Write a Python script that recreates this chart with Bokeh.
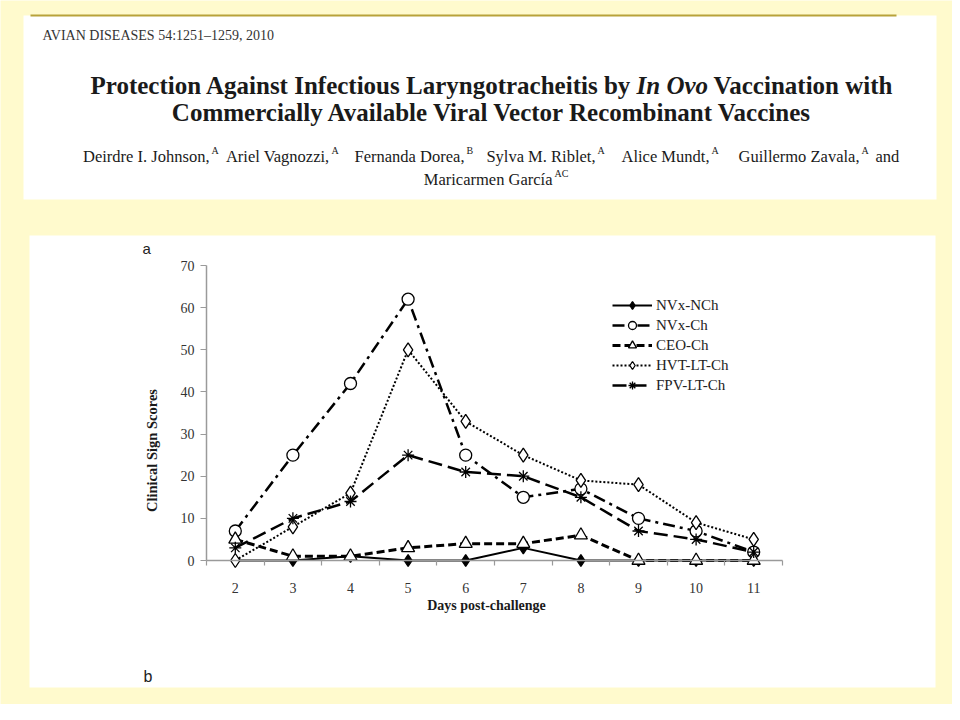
import math
from bokeh.plotting import figure
from bokeh.models import (Range1d, FixedTicker, BoxAnnotation, Label, Legend,
                          LegendItem)
from bokeh.embed import file_html
from bokeh.resources import INLINE

# ---------------- data ----------------
days = [2, 3, 4, 5, 6, 7, 8, 9, 10, 11]
nvx_nch = [0, 0, 1, 0, 0, 3, 0, 0, 0, 0]
nvx_ch = [7, 25, 42, 62, 25, 15, 17, 10, 7, 2]
ceo_ch = [5, 1, 1, 3, 4, 4, 6, 0, 0, 0]
hvt_lt_ch = [0, 8, 16, 50, 33, 25, 19, 18, 9, 5]
fpv_lt_ch = [3, 10, 14, 25, 21, 20, 15, 7, 5, 2]
series_names = ["NVx-NCh", "NVx-Ch", "CEO-Ch", "HVT-LT-Ch", "FPV-LT-Ch"]
y_ticks = [0, 10, 20, 30, 40, 50, 60, 70]

BG = "#FFFACD"
SERIF = "Liberation Serif"
SANS = "Liberation Sans"

# ---------------- geometry (canvas px) ----------------
W, H = 952, 704
X_LO, X_HI = days[0] - 0.5, days[-1] + 0.5
Y_LO, Y_HI = y_ticks[0], y_ticks[-1]
PX_XLO, PX_XHI = 206, 782      # canvas x of X_LO / X_HI
PX_YLO, PX_YHI = 560, 265      # canvas y (top-down) of Y_LO / Y_HI
kx = (PX_XHI - PX_XLO) / (X_HI - X_LO)
ky = (PX_YLO - PX_YHI) / (Y_HI - Y_LO)
x_range = Range1d(X_LO - PX_XLO / kx, X_HI + (W - PX_XHI) / kx)
y_range = Range1d(Y_LO - (H - PX_YLO) / ky, Y_HI + PX_YHI / ky)

p = figure(width=W, height=H, output_backend="svg", toolbar_location=None,
           x_range=x_range, y_range=y_range, title=None,
           min_border=0, min_border_left=0, min_border_right=0,
           min_border_top=0, min_border_bottom=0)
p.border_fill_color = BG
p.background_fill_color = BG
p.outline_line_color = None
p.xgrid.visible = False
p.ygrid.visible = False

# ---------------- decorations ----------------
def box(l, r, t, b, color):
    return BoxAnnotation(left=l, right=r, top=t, bottom=b,
                         left_units="canvas", right_units="canvas",
                         top_units="canvas", bottom_units="canvas",
                         fill_color=color, fill_alpha=1, line_color=None,
                         level="image")

p.add_layout(box(23, 936, 15, 199, "white"))
p.add_layout(box(29, 935, 235, 687, "white"))
p.add_layout(box(30, 896, 14, 16, "#B8A23A"))

def lab(text, x, y, size, font=SERIF, style="normal", align="left",
        color="#1a1a1a", angle=0):
    p.add_layout(Label(x=x, y=y, x_units="canvas", y_units="canvas",
                       text=text, text_font=font, text_font_size=size,
                       text_font_style=style, text_align=align,
                       text_baseline="middle", text_color=color, angle=angle))

lab("AVIAN DISEASES 54:1251\u20131259, 2010", 42, 35, "14px", color="#333")
lab("Protection Against Infectious Laryngotracheitis by", 90, 85, "25px", style="bold")
lab("In Ovo", 636, 85, "25px", style="bold italic")
lab("Vaccination with", 713, 85, "25px", style="bold")
lab("Commercially Available Viral Vector Recombinant Vaccines", 492, 112, "25px",
    style="bold", align="center")

# (name, superscript, x of its superscript)
authors = [("Deirdre I. Johnson,", "A", 211),
           ("Ariel Vagnozzi,", "A", 331),
           ("Fernanda Dorea,", "B", 466),
           ("Sylva M. Riblet,", "A", 597),
           ("Alice Mundt,", "A", 711),
           ("Guillermo Zavala,", "A", 861)]
for name, sup, sx in authors:
    lab(name, sx - 2, 156, "16.5px", align="right")
    lab(sup, sx, 150, "10px")
lab("and", 875, 156, "16.5px")
lab("Maricarmen Garc\u00eda", 552, 179, "16.5px", align="right")
lab("AC", 554, 173, "10px")

lab("a", 142, 248, "15px", font=SANS, color="#222")
lab("b", 143, 676, "16px", font=SANS, color="#222")
lab("Clinical Sign Scores", 151, 450, "14.5px", style="bold", align="center",
    angle=math.pi / 2)
lab("Days post-challenge", 486, 605, "14px", style="bold", align="center")

# ---------------- axes ----------------
xa = p.xaxis[0]
xa.ticker = FixedTicker(ticks=days,
                        minor_ticks=[d - 0.5 for d in days] + [days[-1] + 0.5])
xa.fixed_location = Y_LO
xa.bounds = (X_LO, X_HI)
xa.axis_line_color = "#9a9a9a"
xa.axis_line_width = 1.5
xa.major_tick_line_color = None
xa.major_tick_out = 0
xa.major_tick_in = 0
xa.minor_tick_line_color = "#9a9a9a"
xa.minor_tick_line_width = 1.2
xa.minor_tick_out = 5
xa.minor_tick_in = 0
xa.major_label_standoff = 17
xa.major_label_text_font = SERIF
xa.major_label_text_font_size = "14px"
xa.major_label_text_color = "#333"

ya = p.yaxis[0]
ya.ticker = FixedTicker(ticks=y_ticks)
ya.fixed_location = X_LO
ya.bounds = (Y_LO, Y_HI)
ya.axis_line_color = "#9a9a9a"
ya.axis_line_width = 1.5
ya.major_tick_line_color = "#9a9a9a"
ya.major_tick_line_width = 1.2
ya.major_tick_out = 6
ya.major_tick_in = 0
ya.minor_tick_line_color = None
ya.major_label_standoff = 6
ya.major_label_text_font = SERIF
ya.major_label_text_font_size = "14px"
ya.major_label_text_color = "#333"

# ---------------- series ----------------
styles = [
    (nvx_nch, "solid", 2.0, "diamond", 12, "black"),
    (nvx_ch, "12 5 3 5", 2.5, "circle", 12, "white"),
    (ceo_ch, "8 4", 3.0, "triangle", 13, "white"),
    (hvt_lt_ch, "2 2", 2.0, "diamond", 14, "white"),
    (fpv_lt_ch, "14 6", 2.5, "asterisk", 12, "white"),
]
items = []
for name, (vals, dash, lw, marker, size, fill) in zip(series_names, styles):
    ln = p.line(days, vals, line_color="black", line_width=lw, line_dash=dash)
    sc = p.scatter(days, vals, marker=marker, size=size, fill_color=fill,
                   line_color="black", line_width=1.3)
    items.append(LegendItem(label=name, renderers=[ln, sc]))

# legend box: left edge at canvas x 612, bottom edge at canvas y 395
legend = Legend(items=items, location=(612, H - 395), padding=0, spacing=0,
                margin=0, label_height=20, glyph_height=20, glyph_width=40,
                label_standoff=4, border_line_color=None,
                background_fill_alpha=0, label_text_font=SERIF,
                label_text_font_size="15px", label_text_color="#222")
p.add_layout(legend)

open("out.html", "w").write(file_html(p, INLINE))
